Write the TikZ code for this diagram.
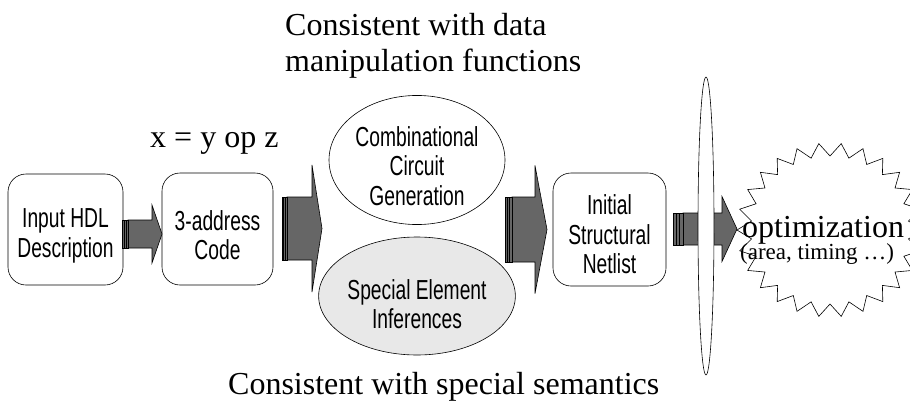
\documentclass[tikz,border=0pt]{standalone}
\usepackage{fontspec}
\setmainfont{Liberation Serif}
\newfontfamily\narrowsf[FakeStretch=0.70]{Liberation Sans}
\usetikzlibrary{shapes.geometric}
\definecolor{arrowgray}{RGB}{102,102,102}
\definecolor{lightfill}{RGB}{232,232,232}
\newcommand\bigserif{\fontsize{32}{36}\selectfont}
\newcommand\smallserif{\fontsize{23}{27}\selectfont}
\newcommand\boxfont{\narrowsf\fontsize{27.5}{29.5}\selectfont}
\newcommand\lowstrut[1]{\rule{0pt}{#1}}
% block arrow: #1 stripe start, #2 body start, #3 head start, #4 tip, #5 y centre, #6 half body, #7 half head
\newcommand\blockarrow[7]{%
  \draw[arrowline,fill=arrowgray] ({#2},{#5-#6}) -- ({#3},{#5-#6}) -- ({#3},{#5-#7}) -- ({#4},{#5})
     -- ({#3},{#5+#7}) -- ({#3},{#5+#6}) -- ({#2},{#5+#6}) -- cycle;
  \foreach \s in {0,1,2}{
    \draw[arrowline,fill=arrowgray] ({#1+\s*(#2-#1)/3},{#5-#6}) rectangle ({#1+(\s+1)*(#2-#1)/3},{#5+#6});
  }%
}
\begin{document}
\begin{tikzpicture}[x=1pt,y=-1pt,
  arrowline/.style={draw=black,line width=0.6pt,line join=miter},
  roundbox/.style={draw,line width=0.6pt,rounded corners=18pt,fill=white,align=center,font=\boxfont,inner sep=0pt},
  blob/.style={draw,line width=0.6pt,ellipse,fill=white,align=center,font=\boxfont,inner sep=0pt},
  label/.style={inner sep=0pt,font=\bigserif}]
\clip (0,0) rectangle (910,407);
\useasboundingbox (0,0) rectangle (910,407);

% nodes
\node[roundbox,minimum width=115pt,minimum height=111pt] (in) at (65.5,229.5) {\lowstrut{32pt}Input HDL\\Description};
\node[roundbox,minimum width=111pt,minimum height=112pt] (tac) at (217.5,229) {\lowstrut{32pt}3-address\\Code};
\node[blob,minimum width=176pt,minimum height=120pt] (comb) at (417,160) {\lowstrut{32pt}Combinational\\Circuit\\Generation};
\node[blob,fill=lightfill,minimum width=176pt,minimum height=118pt] (spec) at (417,296) {\lowstrut{36pt}Special Element\\Inferences};
\node[roundbox,minimum width=113pt,minimum height=113pt] (net) at (609.5,229.5) {\lowstrut{30pt}Initial\\Structural\\Netlist};

% arrows
\blockarrow{122}{128}{152}{162}{234}{14}{29}
\blockarrow{282}{287}{312}{322}{228.5}{31.5}{63.5}
\blockarrow{505}{512}{535}{547}{229.5}{32.5}{64}
\blockarrow{673}{683}{722}{737}{229}{16}{32.5}

% tall ellipse
\node[draw,line width=0.6pt,ellipse,fill=white,inner sep=0pt,minimum width=16pt,minimum height=298pt] (bar) at (706,226) {};

% star
\draw[line width=0.6pt,fill=white,line join=miter] plot[variable=\k,samples at={0,...,51}]
  ({830+(mod(\k,2)==0 ? 93 : 79)*cos(180+\k*(360/52))},{230+(mod(\k,2)==0 ? 87 : 74)*sin(180+\k*(360/52))}) -- cycle;
\node[label,anchor=base west] (opt) at (742,237) {optimization};
\node[inner sep=0pt,font=\smallserif,anchor=base west] (area) at (740,259) {(area, timing …)};

% labels
\node[label,anchor=north west,align=left] (top) at (285,13) {Consistent with data\\manipulation functions};
\node[label,anchor=base west] (xyz) at (150,147) {x = y op z};
\node[label,anchor=base west] (bottom) at (228,394) {Consistent with special semantics};
\end{tikzpicture}
\end{document}
